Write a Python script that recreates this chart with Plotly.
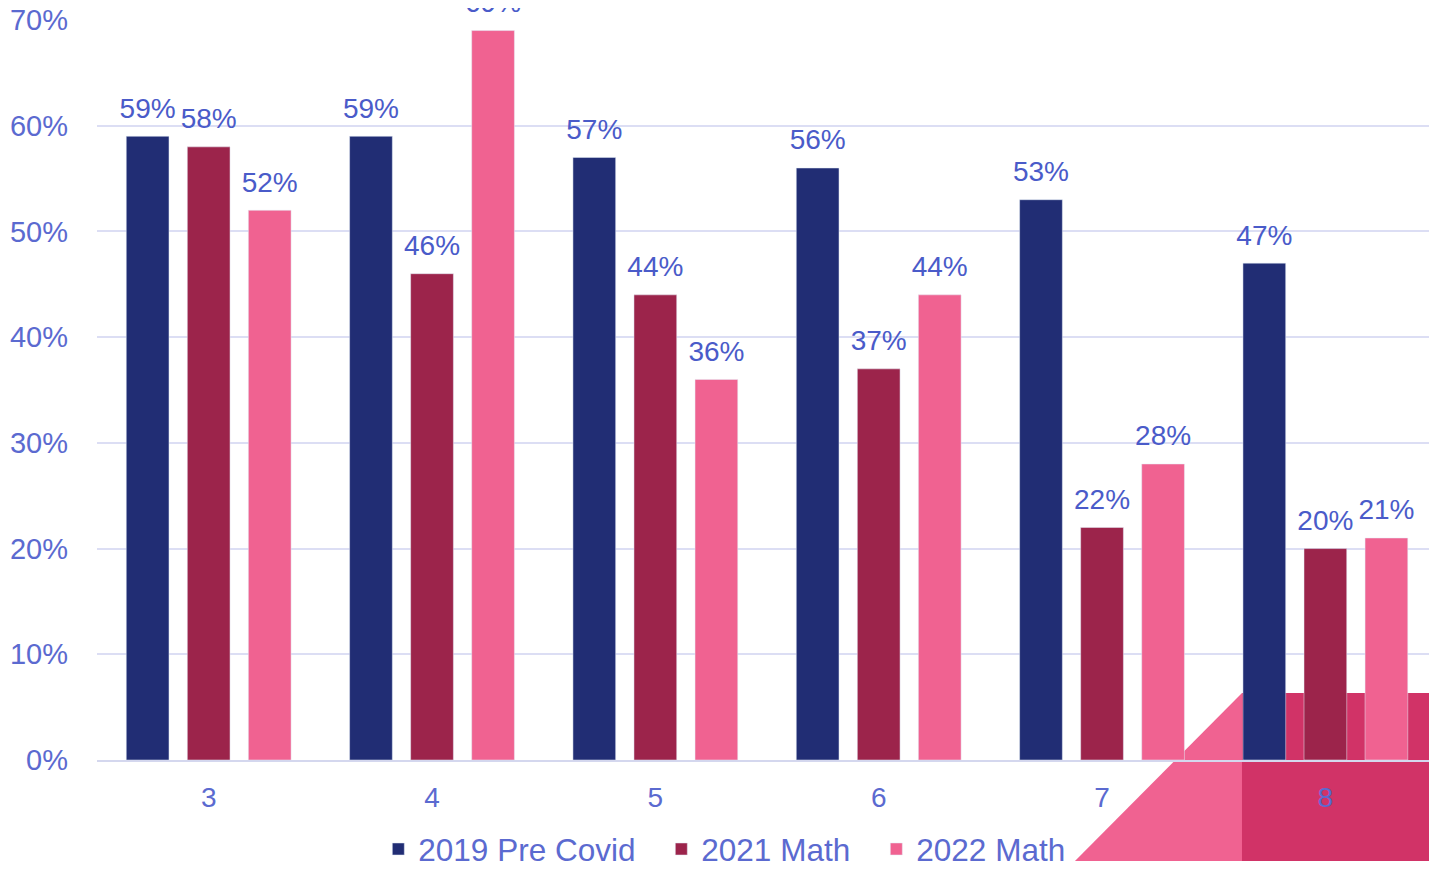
import plotly.graph_objects as go

grades = ["3", "4", "5", "6", "7", "8"]
pre_covid_2019 = [0.59, 0.59, 0.57, 0.56, 0.53, 0.47]
math_2021 = [0.58, 0.46, 0.44, 0.37, 0.22, 0.20]
math_2022 = [0.52, 0.69, 0.36, 0.44, 0.28, 0.21]
pct_ticks = [0, 0.1, 0.2, 0.3, 0.4, 0.5, 0.6, 0.7]

series = [
    ("2019 Pre Covid", pre_covid_2019, "#212D74", 238),
    ("2021 Math", math_2021, "#9C244B", 170),
    ("2022 Math", math_2022, "#F06291", None),
]

FONT = "Liberation Sans, Arial, sans-serif"
AXIS_BLUE = "#5B6AD0"
LABEL_BLUE = "#4A5BC9"

# a small blank second line lifts the value label a little off the bar top
LABEL_TEMPLATE = (
    "<span style='font-size:28px'>%{text}</span>"
    "<br><span style='font-size:2px'>&nbsp;</span>"
)

fig = go.Figure()
for name, vals, color, lw in series:
    fig.add_trace(
        go.Bar(
            name=name,
            x=grades,
            y=vals,
            marker_color=color,
            text=[f"{v:.0%}" for v in vals],
            texttemplate=LABEL_TEMPLATE,
            textposition="outside",
            constraintext="none",
            textfont=dict(size=12, color=LABEL_BLUE, family=FONT),
            cliponaxis=False,
            legendwidth=lw,
        )
    )

# decorative corner shapes (sit behind the bars)
fig.add_shape(
    type="path",
    path="M 0.7342,-0.1365 L 0.8596,0.0905 L 0.8596,-0.1365 Z",
    xref="paper", yref="paper",
    fillcolor="#F06291", line_width=0, layer="below",
)
fig.add_shape(
    type="rect", x0=0.8596, x1=1.0, y0=-0.1365, y1=0.0905,
    xref="paper", yref="paper",
    fillcolor="#D13367", line_width=0, layer="below",
)

# page body keeps its 8px margin, so the figure is kept small enough to fit the window
fig.update_layout(
    width=1421,
    height=853,
    margin=dict(l=89, r=0, t=12, b=101, autoexpand=False),
    paper_bgcolor="white",
    plot_bgcolor="rgba(0,0,0,0)",
    barmode="group",
    bargap=0.18,
    bargroupgap=0.3,
    font=dict(family=FONT, color=AXIS_BLUE),
    showlegend=True,
    legend=dict(
        orientation="h",
        x=0.2112,
        xanchor="left",
        y=-0.0838,
        yanchor="top",
        font=dict(size=31.5, color=AXIS_BLUE, family=FONT),
        bgcolor="rgba(0,0,0,0)",
        itemwidth=30,
    ),
)
fig.update_yaxes(
    range=[0, 0.7],
    tickmode="array",
    tickvals=pct_ticks,
    tickformat=".0%",
    showgrid=True,
    gridcolor="#DCDEF4",
    gridwidth=2,
    zeroline=False,
    showline=False,
    ticks="",
    automargin=False,
    ticklabelstandoff=28,
    ticklabeloverflow="allow",
    tickfont=dict(size=29, color=AXIS_BLUE, family=FONT),
)
fig.update_xaxes(
    range=[-0.5, 5.464],
    showline=True,
    linecolor="#D4D7EE",
    linewidth=2,
    ticks="",
    automargin=False,
    ticklabelstandoff=11,
    tickfont=dict(size=28, color=AXIS_BLUE, family=FONT),
)

fig.write_html("out.html")
